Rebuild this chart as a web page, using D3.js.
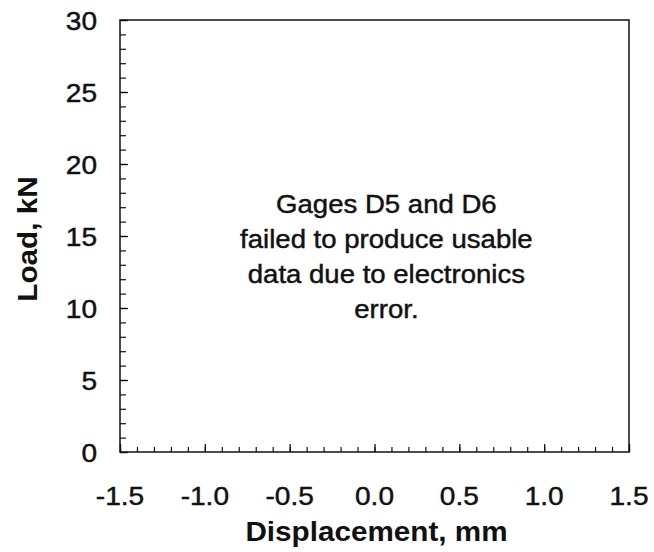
<!DOCTYPE html>
<html><head><meta charset="utf-8">
<script src="https://cdn.jsdelivr.net/npm/d3@7"></script>
<style>body{margin:0;background:#fff}svg{display:block}</style></head>
<body><svg id="c" width="654" height="552"></svg>
<script>
const xDomain = [-1.5, 1.5];
const yDomain = [0, 30];
const xMajorTicks = [-1.5, -1.0, -0.5, 0.0, 0.5, 1.0, 1.5];
const xTickLabels = ["-1.5", "-1.0", "-0.5", "0.0", "0.5", "1.0", "1.5"];
const yMajorTicks = [0, 5, 10, 15, 20, 25, 30];
const yTickLabels = ["0", "5", "10", "15", "20", "25", "30"];
const xMinorStep = 0.1;
const yMinorStep = 1;
const xTitle = "Displacement, mm";
const yTitle = "Load, kN";
const noteLines = ["Gages D5 and D6", "failed to produce usable", "data due to electronics", "error."];
const noteX = 0.07;

const L = 120, R = 629, T = 20, B = 452;
const svg = d3.select("#c");
const x = d3.scaleLinear().domain(xDomain).range([L, R]);
const y = d3.scaleLinear().domain(yDomain).range([B, T]);
const font = "'Liberation Sans', Arial, Helvetica, sans-serif";
const ink = "#111";

const xMinor = d3.range(Math.round((xDomain[1]-xDomain[0])/xMinorStep)+1).map(i => +(xDomain[0]+i*xMinorStep).toFixed(2));
const yMinor = d3.range(Math.round((yDomain[1]-yDomain[0])/yMinorStep)+1).map(i => yDomain[0]+i*yMinorStep);

// minor ticks
svg.append("g").attr("transform", `translate(0,${B})`)
  .call(d3.axisBottom(x).tickValues(xMinor).tickSize(-5).tickFormat(""))
  .call(g => g.select(".domain").remove())
  .selectAll("line").attr("stroke", ink).attr("stroke-width", 1.2);
svg.append("g").attr("transform", `translate(${L},0)`)
  .call(d3.axisLeft(y).tickValues(yMinor).tickSize(-6).tickFormat(""))
  .call(g => g.select(".domain").remove())
  .selectAll("line").attr("stroke", ink).attr("stroke-width", 1.2);
// major ticks
svg.append("g").attr("transform", `translate(0,${B})`)
  .call(d3.axisBottom(x).tickValues(xMajorTicks).tickSize(-8).tickFormat(""))
  .call(g => g.select(".domain").remove())
  .selectAll("line").attr("stroke", ink).attr("stroke-width", 1.3);
svg.append("g").attr("transform", `translate(${L},0)`)
  .call(d3.axisLeft(y).tickValues(yMajorTicks).tickSize(-8).tickFormat(""))
  .call(g => g.select(".domain").remove())
  .selectAll("line").attr("stroke", ink).attr("stroke-width", 1.3);

// frame
svg.append("rect").attr("x", L).attr("y", T).attr("width", R-L).attr("height", B-T)
  .attr("fill", "none").attr("stroke", ink).attr("stroke-width", 1.5);

const sx = 1.08;
const heavy = sel => sel.attr("stroke", ink).attr("stroke-width", 0.45);
// x tick labels
svg.append("g").selectAll("text").data(xMajorTicks).join("text")
  .attr("transform", d => `translate(${x(d)},505) scale(${sx},1)`)
  .attr("text-anchor", "middle").attr("font-family", font).attr("font-size", 26).attr("fill", ink)
  .call(heavy)
  .text((d, i) => xTickLabels[i]);
// y tick labels
svg.append("g").selectAll("text").data(yMajorTicks).join("text")
  .attr("transform", d => `translate(97,${y(d)+9.5}) scale(${sx},1)`)
  .attr("text-anchor", "end").attr("font-family", font).attr("font-size", 26).attr("fill", ink)
  .call(heavy)
  .text((d, i) => yTickLabels[i]);

// axis titles
svg.append("text").attr("transform", `translate(${(L+R)/2+2},541) scale(1.06,1)`)
  .attr("text-anchor", "middle").attr("font-family", font).attr("font-weight", "bold")
  .attr("font-size", 28).attr("fill", ink).text(xTitle);
svg.append("text").attr("transform", `translate(37,${(T+B)/2+3}) rotate(-90) scale(1.06,1)`)
  .attr("text-anchor", "middle").attr("font-family", font).attr("font-weight", "bold")
  .attr("font-size", 28).attr("fill", ink).text(yTitle);

// note
svg.append("g").selectAll("text").data(noteLines).join("text")
  .attr("transform", (d, i) => `translate(${x(noteX)},${213 + i*35}) scale(1.06,1)`)
  .attr("text-anchor", "middle").attr("font-family", font).attr("font-size", 26).attr("fill", ink)
  .call(heavy)
  .text(d => d);
</script></body></html>
